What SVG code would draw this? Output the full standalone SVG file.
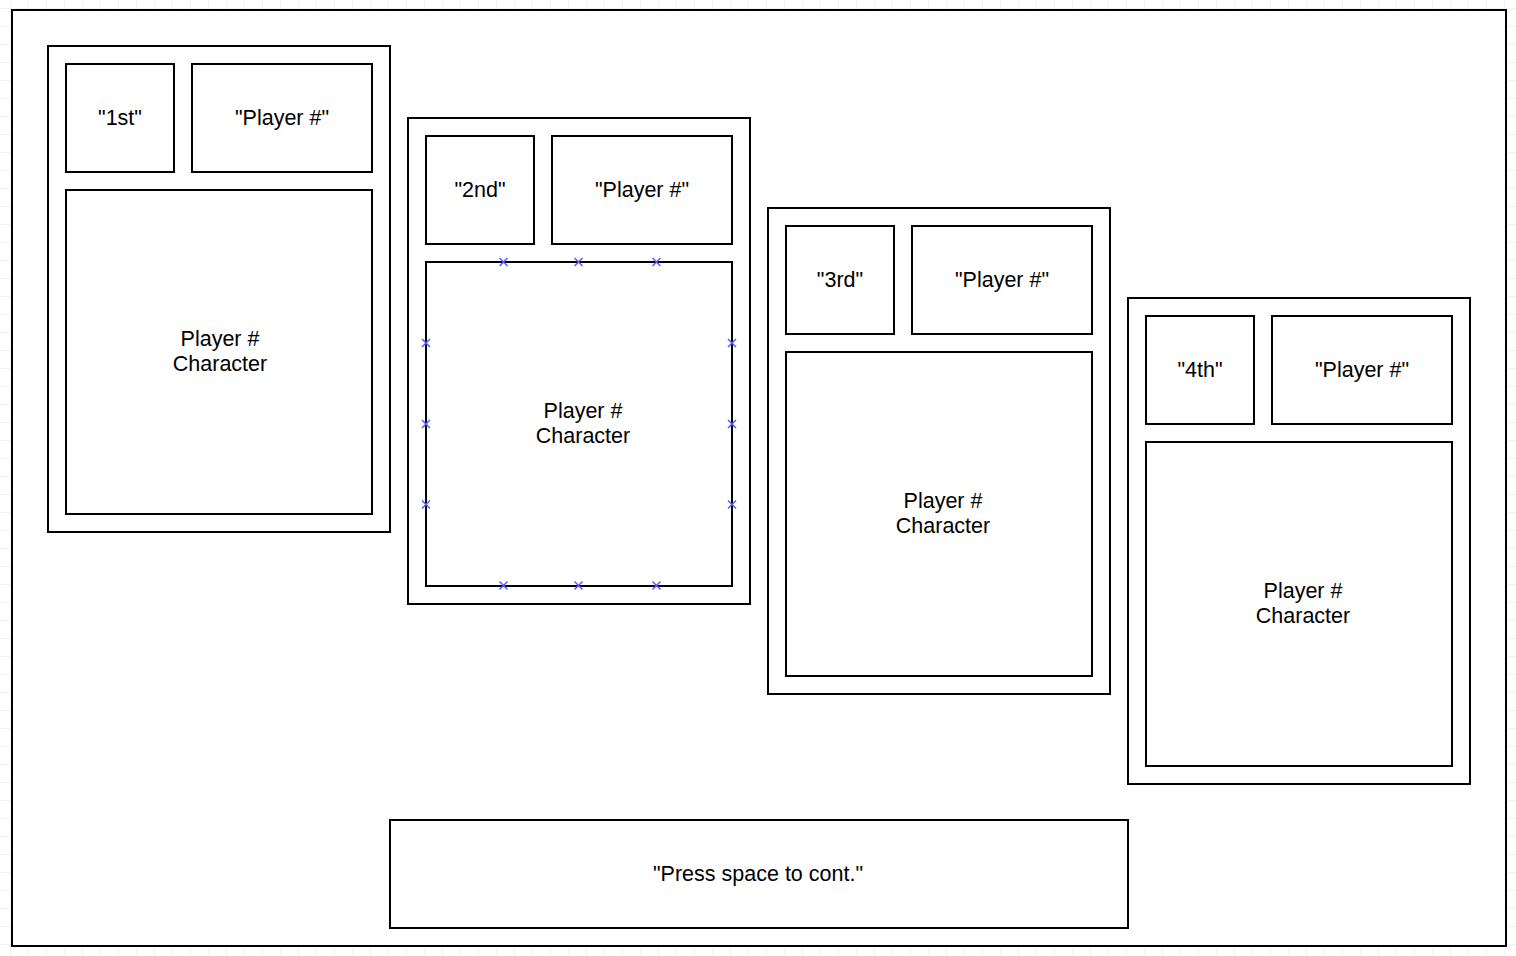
<svg xmlns="http://www.w3.org/2000/svg" width="1516" height="956" viewBox="0 0 1516 956">
<defs>
<pattern id="grid" x="10" y="8" width="18" height="18" patternUnits="userSpaceOnUse">
<path d="M0 0H18M0 0V18" fill="none" stroke="#e8e8e8" stroke-width="1"/>
</pattern>
<g id="xm"><path d="M-4 -4L4 4M-4 4L4 -4" stroke="#5a5aff" stroke-width="1.5" fill="none"/></g>
</defs>
<style>
.b{fill:#fff;stroke:#000;stroke-width:2}
.t{font-family:"Liberation Sans",Arial,sans-serif;font-size:21.5px;fill:#000;text-anchor:middle;dominant-baseline:central}
</style>
<rect width="1516" height="956" fill="#fff"/>
<rect width="1516" height="956" fill="url(#grid)"/>
<rect id="frame" class="b" x="12" y="10" width="1494" height="936"/>
<g id="panel1">
<rect class="b" x="48" y="46" width="342" height="486"/>
<g id="p1rank"><rect class="b" x="66" y="64" width="108" height="108"/><text class="t" x="120" y="118">"1st"</text></g>
<g id="p1name"><rect class="b" x="192" y="64" width="180" height="108"/><text class="t" x="282" y="118">"Player #"</text></g>
<g id="p1char"><rect class="b" x="66" y="190" width="306" height="324"/><text class="t" x="220" y="339">Player #</text><text class="t" x="220" y="364">Character</text></g>
</g>
<g id="panel2">
<rect class="b" x="408" y="118" width="342" height="486"/>
<g id="p2rank"><rect class="b" x="426" y="136" width="108" height="108"/><text class="t" x="480" y="190">"2nd"</text></g>
<g id="p2name"><rect class="b" x="552" y="136" width="180" height="108"/><text class="t" x="642" y="190">"Player #"</text></g>
<g id="p2char"><rect class="b" x="426" y="262" width="306" height="324"/><text class="t" x="583" y="411">Player #</text><text class="t" x="583" y="436">Character</text>
<use href="#xm" x="503.5" y="262"/><use href="#xm" x="578.5" y="262"/><use href="#xm" x="656.5" y="262"/>
<use href="#xm" x="503.5" y="585.5"/><use href="#xm" x="578.5" y="585.5"/><use href="#xm" x="656.5" y="585.5"/>
<use href="#xm" x="426" y="343"/><use href="#xm" x="426" y="424"/><use href="#xm" x="426" y="504.5"/>
<use href="#xm" x="732" y="343"/><use href="#xm" x="732" y="424"/><use href="#xm" x="732" y="504.5"/>
</g>
</g>
<g id="panel3">
<rect class="b" x="768" y="208" width="342" height="486"/>
<g id="p3rank"><rect class="b" x="786" y="226" width="108" height="108"/><text class="t" x="840" y="280">"3rd"</text></g>
<g id="p3name"><rect class="b" x="912" y="226" width="180" height="108"/><text class="t" x="1002" y="280">"Player #"</text></g>
<g id="p3char"><rect class="b" x="786" y="352" width="306" height="324"/><text class="t" x="943" y="501">Player #</text><text class="t" x="943" y="526">Character</text></g>
</g>
<g id="panel4">
<rect class="b" x="1128" y="298" width="342" height="486"/>
<g id="p4rank"><rect class="b" x="1146" y="316" width="108" height="108"/><text class="t" x="1200" y="370">"4th"</text></g>
<g id="p4name"><rect class="b" x="1272" y="316" width="180" height="108"/><text class="t" x="1362" y="370">"Player #"</text></g>
<g id="p4char"><rect class="b" x="1146" y="442" width="306" height="324"/><text class="t" x="1303" y="591">Player #</text><text class="t" x="1303" y="616">Character</text></g>
</g>
<g id="cont"><rect class="b" x="390" y="820" width="738" height="108"/><text class="t" x="758" y="874">"Press space to cont."</text></g>
<g id="connectors"></g>
</svg>
